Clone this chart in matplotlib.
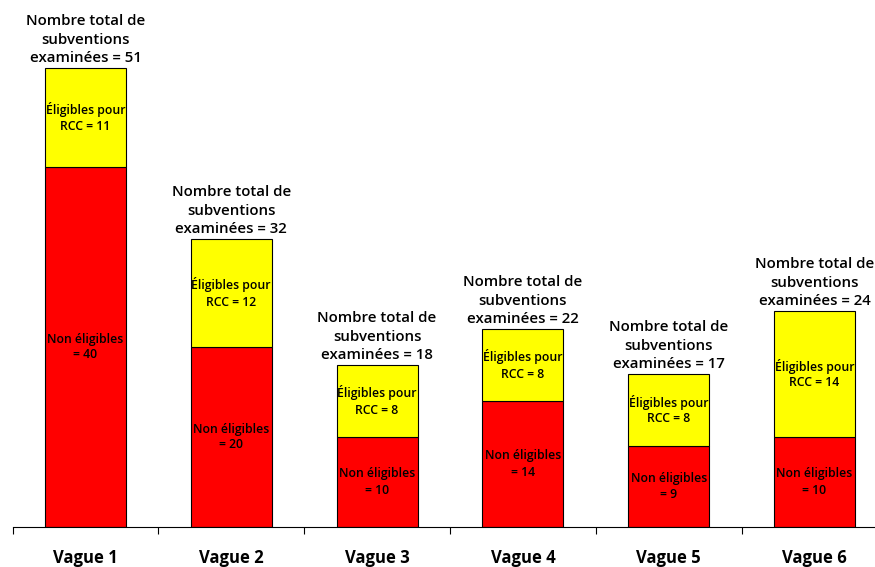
import matplotlib
matplotlib.use('Agg')
import matplotlib.pyplot as plt
import numpy as np

categories = ['Vague 1', 'Vague 2', 'Vague 3', 'Vague 4', 'Vague 5', 'Vague 6']
non_eligibles = [40, 20, 10, 14, 9, 10]
eligibles = [11, 12, 8, 8, 8, 14]
totals = [51, 32, 18, 22, 17, 24]

plt.rcParams['font.family'] = ['Open Sans', 'DejaVu Sans']

fig = plt.figure(figsize=(8.75, 5.67), dpi=100)
ax = fig.add_axes([12.6 / 875, 40 / 567, 874.8 / 875, 527 / 567])

x = np.arange(len(categories))
w = 0.556

# barres empilées
ax.bar(x, non_eligibles, width=w, color='#ff0000', edgecolor='black', linewidth=0.8)
ax.bar(x, eligibles, width=w, bottom=non_eligibles, color='#ffff00',
       edgecolor='black', linewidth=0.8)

for i in range(len(categories)):
    ax.text(x[i], non_eligibles[i] / 2, 'Non éligibles\n= %d' % non_eligibles[i],
            ha='center', va='center', fontsize=8.8, fontweight='semibold',
            linespacing=1.3)
    ax.text(x[i], non_eligibles[i] + eligibles[i] / 2,
            'Éligibles pour\nRCC = %d' % eligibles[i],
            ha='center', va='center', fontsize=8.8, fontweight='semibold',
            linespacing=1.3)
    ax.annotate('Nombre total de\nsubventions\nexaminées = %d' % totals[i],
                xy=(x[i], totals[i]), xytext=(0, 2), textcoords='offset points',
                ha='center', va='bottom', fontsize=10.8, fontweight='semibold',
                linespacing=1.4)

ax.set_xlim(-0.5, 5.5)
ax.set_ylim(0, 527 / 9)

for s in ['top', 'right', 'left']:
    ax.spines[s].set_visible(False)
ax.spines['bottom'].set_linewidth(0.8)
ax.set_yticks([])

# graduations entre les catégories
ax.set_xticks(np.arange(-0.5, 6, 1.0))
ax.set_xticklabels([])
ax.tick_params(axis='x', which='major', length=5, width=0.8, direction='out')
ax.set_xticks(x, minor=True)
ax.set_xticklabels(categories, minor=True, fontsize=12, fontweight='bold')
ax.tick_params(axis='x', which='minor', length=0, pad=16)

fig.savefig('out.png', dpi=100)
